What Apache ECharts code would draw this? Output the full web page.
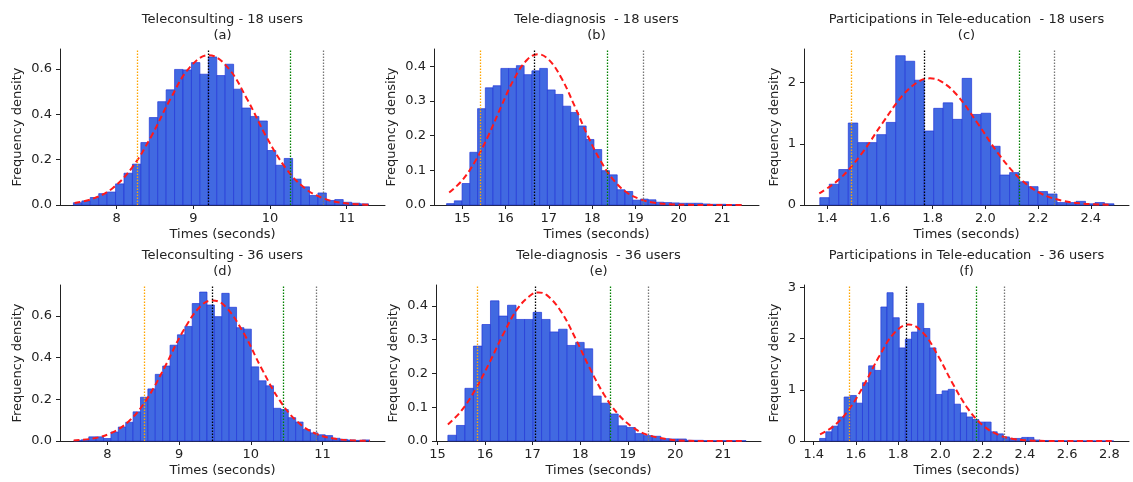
<!DOCTYPE html>
<html>
<head>
<meta charset="utf-8">
<script src="https://cdn.jsdelivr.net/npm/echarts@6/dist/echarts.min.js"></script>
<style>
  html, body { margin: 0; padding: 0; background: #fff; }
  #chart { width: 1133px; height: 482px; }
</style>
</head>
<body>
<div id="chart"></div>
<script>
// 直方图高度 (频率密度)，各面板一组
const aHeights = [0.01, 0.018, 0.033, 0.05, 0.057, 0.093, 0.14, 0.18, 0.275, 0.385, 0.455, 0.507, 0.597, 0.595, 0.627, 0.576, 0.652, 0.57, 0.62, 0.51, 0.427, 0.39, 0.37, 0.24, 0.175, 0.205, 0.114, 0.08, 0.042, 0.053, 0.02, 0.024, 0.012, 0.008, 0.005];
const bHeights = [0.004, 0.012, 0.062, 0.152, 0.278, 0.338, 0.344, 0.394, 0.394, 0.402, 0.376, 0.387, 0.394, 0.332, 0.319, 0.285, 0.267, 0.228, 0.189, 0.16, 0.099, 0.087, 0.044, 0.039, 0.014, 0.017, 0.015, 0.008, 0.007, 0.006, 0.005, 0.005, 0.005, 0.003, 0.002, 0.002, 0.001, 0.001];
const cHeights = [0.12, 0.34, 0.58, 1.34, 1.02, 1.02, 1.15, 1.35, 2.44, 2.35, 2.04, 1.21, 1.58, 1.67, 1.40, 2.07, 1.48, 1.50, 0.96, 0.49, 0.53, 0.38, 0.30, 0.22, 0.18, 0.04, 0.04, 0.06, 0.02, 0.04, 0.02];
const dHeights = [0.003, 0.006, 0.02, 0.02, 0.012, 0.043, 0.067, 0.09, 0.14, 0.21, 0.25, 0.32, 0.36, 0.46, 0.51, 0.55, 0.66, 0.715, 0.653, 0.597, 0.709, 0.642, 0.544, 0.537, 0.356, 0.289, 0.265, 0.157, 0.151, 0.112, 0.091, 0.055, 0.039, 0.03, 0.026, 0.013, 0.008, 0.005, 0.003, 0.005];
const eHeights = [0.017, 0.046, 0.156, 0.281, 0.345, 0.415, 0.37, 0.402, 0.36, 0.36, 0.381, 0.36, 0.323, 0.331, 0.283, 0.292, 0.273, 0.133, 0.112, 0.08, 0.045, 0.04, 0.022, 0.016, 0.014, 0.007, 0.006, 0.006, 0.002, 0.002, 0.001, 0.001, 0.001, 0.001, 0.001];
const fHeights = [0.05, 0.18, 0.29, 0.47, 0.86, 0.89, 0.74, 1.14, 1.47, 1.38, 2.62, 2.9, 2.41, 1.82, 1.99, 2.13, 2.69, 2.2, 1.82, 0.91, 0.98, 1.01, 0.72, 0.55, 0.47, 0.42, 0.37, 0.37, 0.18, 0.14, 0.08, 0.05, 0.05, 0.07, 0.07, 0.02, 0.01, 0.01, 0.005, 0.005, 0.003, 0.003, 0.002, 0.002, 0.002, 0.001, 0.002, 0.002];

// 第一个柱的左边界和柱宽 (秒)
const binStarts = [7.435, 14.64, 1.372, 7.535, 15.22, 1.428];
const binWidths = [0.11, 0.179, 0.036, 0.103, 0.179, 0.029];

// 红色虚线 (正态拟合) 读取的点
const aCurveX = [7.45, 7.7, 7.95, 8.2, 8.45, 8.7, 8.95, 9.2, 9.45, 9.7, 9.95, 10.2, 10.45, 10.7, 10.95, 11.3];
const aCurveY = [0.009, 0.029, 0.075, 0.165, 0.302, 0.467, 0.605, 0.66, 0.605, 0.467, 0.302, 0.165, 0.075, 0.029, 0.009, 0.001];
const bCurveX = [14.7, 15.0, 15.3, 15.6, 15.9, 16.2, 16.5, 16.75, 17.0, 17.3, 17.6, 17.9, 18.2, 18.5, 18.8, 19.1, 19.4, 19.8, 20.2, 20.8, 21.45];
const bCurveY = [0.036, 0.071, 0.126, 0.199, 0.284, 0.364, 0.419, 0.435, 0.419, 0.364, 0.284, 0.199, 0.126, 0.071, 0.036, 0.017, 0.007, 0.002, 0.0004, 0, 0];
const cCurveX = [1.37, 1.45, 1.53, 1.61, 1.69, 1.75, 1.79, 1.83, 1.89, 1.97, 2.05, 2.13, 2.21, 2.29, 2.37, 2.48];
const cCurveY = [0.19, 0.438, 0.836, 1.34, 1.81, 2.026, 2.07, 2.026, 1.81, 1.34, 0.836, 0.438, 0.19, 0.072, 0.023, 0.004];
const dCurveX = [7.53, 7.8, 8.05, 8.3, 8.55, 8.8, 9.05, 9.3, 9.47, 9.65, 9.9, 10.15, 10.4, 10.65, 10.9, 11.15, 11.4, 11.66];
const dCurveY = [0.003, 0.012, 0.038, 0.095, 0.201, 0.355, 0.524, 0.648, 0.675, 0.644, 0.518, 0.348, 0.196, 0.092, 0.036, 0.012, 0.003, 0.001];
const eCurveX = [15.22, 15.5, 15.8, 16.1, 16.4, 16.7, 17.0, 17.12, 17.3, 17.6, 17.9, 18.2, 18.5, 18.8, 19.1, 19.4, 19.8, 20.2, 20.8, 21.45];
const eCurveY = [0.049, 0.089, 0.153, 0.234, 0.321, 0.395, 0.436, 0.44, 0.432, 0.383, 0.304, 0.216, 0.138, 0.079, 0.041, 0.019, 0.006, 0.001, 0, 0];
const fCurveX = [1.43, 1.5, 1.57, 1.64, 1.71, 1.78, 1.85, 1.92, 1.99, 2.06, 2.13, 2.2, 2.27, 2.34, 2.41, 2.5, 2.62, 2.82];
const fCurveY = [0.128, 0.309, 0.634, 1.11, 1.655, 2.105, 2.28, 2.105, 1.655, 1.11, 0.634, 0.309, 0.128, 0.045, 0.014, 0.002, 0, 0];

// 竖线位置: 橙色, 黑色, 绿色, 灰色
const aLines = [8.27, 9.2, 10.26, 10.7];
const bLines = [15.42, 16.66, 18.35, 19.18];
const cLines = [1.49, 1.775, 2.126, 2.257];
const dLines = [8.51, 9.46, 10.45, 10.91];
const eLines = [15.83, 17.06, 18.64, 19.44];
const fLines = [1.566, 1.836, 2.17, 2.30];

// 刻度
const aTicksX = [8, 9, 10, 11];
const bTicksX = [15, 16, 17, 18, 19, 20, 21];
const cTicksX = [1.4, 1.6, 1.8, 2.0, 2.2, 2.4];
const dTicksX = [8, 9, 10, 11];
const eTicksX = [15, 16, 17, 18, 19, 20, 21];
const fTicksX = [1.4, 1.6, 1.8, 2.0, 2.2, 2.4, 2.6, 2.8];
const aTicksY = [0, 0.2, 0.4, 0.6];
const bTicksY = [0, 0.1, 0.2, 0.3, 0.4];
const cTicksY = [0, 1, 2];
const dTicksY = [0, 0.2, 0.4, 0.6];
const eTicksY = [0, 0.1, 0.2, 0.3, 0.4];
const fTicksY = [0, 1, 2, 3];

const titles = [
    'Teleconsulting - 18 users', 'Tele-diagnosis  - 18 users', 'Participations in Tele-education  - 18 users',
    'Teleconsulting - 36 users', 'Tele-diagnosis  - 36 users', 'Participations in Tele-education  - 36 users'
];
const letters = ['(a)', '(b)', '(c)', '(d)', '(e)', '(f)'];

const FONT = 'DejaVu Sans';
const TEXT = '#222';

const panels = [
    { h: aHeights, cx: aCurveX, cy: aCurveY, lines: aLines, tx: aTicksX, ty: aTicksY, xmin: 7.26, xmax: 11.5, ymax: 0.687, left: 60, top: 49, dec: 0, yd: 1, gap: 36 },
    { h: bHeights, cx: bCurveX, cy: bCurveY, lines: bLines, tx: bTicksX, ty: bTicksY, xmin: 14.35, xmax: 21.85, ymax: 0.45, left: 434, top: 49, dec: 0, yd: 1, gap: 36 },
    { h: cHeights, cx: cCurveX, cy: cCurveY, lines: cLines, tx: cTicksX, ty: cTicksY, xmin: 1.312, xmax: 2.545, ymax: 2.55, left: 804, top: 49, dec: 1, yd: 0, gap: 23 },
    { h: dHeights, cx: dCurveX, cy: dCurveY, lines: dLines, tx: dTicksX, ty: dTicksY, xmin: 7.34, xmax: 11.87, ymax: 0.749, left: 60, top: 285, dec: 0, yd: 1, gap: 36 },
    { h: eHeights, cx: eCurveX, cy: eCurveY, lines: eLines, tx: eTicksX, ty: eTicksY, xmin: 14.97, xmax: 21.8, ymax: 0.462, left: 436, top: 285, dec: 0, yd: 1, gap: 36 },
    { h: fHeights, cx: fCurveX, cy: fCurveY, lines: fLines, tx: fTicksX, ty: fTicksY, xmin: 1.354, xmax: 2.893, ymax: 3.05, left: 804, top: 285, dec: 1, yd: 0, gap: 23 }
];
const GRID_W = 325;
const GRID_H = 156;
const lineColors = ['#ffa500', '#000000', '#008000', '#777777'];

const grids = [], xAxes = [], yAxes = [], series = [], graphics = [];

panels.forEach((p, k) => {
    grids.push({ left: p.left, top: p.top, width: GRID_W, height: GRID_H });

    xAxes.push({
        type: 'value', gridIndex: k, min: p.xmin, max: p.xmax,
        name: 'Times (seconds)', nameLocation: 'middle', nameGap: 23,
        nameTextStyle: { fontFamily: FONT, fontSize: 13, color: TEXT },
        axisLine: { show: true, onZero: false, lineStyle: { color: '#222', width: 1 } },
        axisTick: { show: true, length: 4, lineStyle: { color: '#222' }, customValues: p.tx },
        axisLabel: {
            fontFamily: FONT, fontSize: 13, color: TEXT, margin: 7,
            customValues: p.tx,
            formatter: v => p.dec ? v.toFixed(1) : String(Math.round(v))
        },
        splitLine: { show: false }
    });

    yAxes.push({
        type: 'value', gridIndex: k, min: 0, max: p.ymax,
        name: 'Frequency density', nameLocation: 'middle', nameGap: p.gap,
        nameTextStyle: { fontFamily: FONT, fontSize: 13, color: TEXT },
        axisLine: { show: true, lineStyle: { color: '#222', width: 1 } },
        axisTick: { show: true, length: 4, lineStyle: { color: '#222' }, customValues: p.ty },
        axisLabel: {
            fontFamily: FONT, fontSize: 13, color: TEXT, margin: 8,
            customValues: p.ty,
            formatter: v => p.yd ? v.toFixed(1) : String(Math.round(v))
        },
        splitLine: { show: false }
    });

    // 直方图
    const start = binStarts[k], w = binWidths[k];
    series.push({
        type: 'custom', xAxisIndex: k, yAxisIndex: k,
        data: p.h.map((v, i) => [start + i * w, start + (i + 1) * w, v]),
        encode: { x: [0, 1], y: 2 },
        renderItem: function (params, api) {
            const p0 = api.coord([api.value(0), api.value(2)]);
            const p1 = api.coord([api.value(1), 0]);
            return {
                type: 'rect',
                shape: { x: p0[0], y: p0[1], width: p1[0] - p0[0], height: p1[1] - p0[1] },
                style: { fill: '#4169e1', stroke: '#2238d8', lineWidth: 0.7 }
            };
        },
        silent: true, z: 2
    });

    // 竖线
    series.push({
        type: 'line', xAxisIndex: k, yAxisIndex: k, data: [], silent: true,
        markLine: {
            symbol: 'none', silent: true, animation: false,
            label: { show: false },
            data: p.lines.map((x, i) => ({ xAxis: x, lineStyle: { color: lineColors[i], type: [1.5, 1.5], width: 1.3, opacity: 1 } }))
        },
        z: 3
    });

    // 拟合曲线
    series.push({
        type: 'line', xAxisIndex: k, yAxisIndex: k,
        data: p.cx.map((x, i) => [x, p.cy[i]]),
        smooth: 0.4, showSymbol: false, symbol: 'none', silent: true,
        lineStyle: { color: '#ff1a1a', width: 2, type: [6, 3.5] },
        z: 4
    });

    // 标题
    const cxPix = p.left + GRID_W / 2;
    graphics.push({
        type: 'text', x: cxPix, y: p.top - 29,
        style: { text: titles[k], textAlign: 'center', textVerticalAlign: 'middle', font: '13px "DejaVu Sans"', fill: TEXT }
    });
    graphics.push({
        type: 'text', x: cxPix, y: p.top - 13,
        style: { text: letters[k], textAlign: 'center', textVerticalAlign: 'middle', font: '13px "DejaVu Sans"', fill: TEXT }
    });
});

const chart = echarts.init(document.getElementById('chart'), null, { renderer: 'canvas' });
chart.setOption({
    animation: false,
    backgroundColor: '#ffffff',
    grid: grids,
    xAxis: xAxes,
    yAxis: yAxes,
    series: series,
    graphic: graphics
});
</script>
</body>
</html>
